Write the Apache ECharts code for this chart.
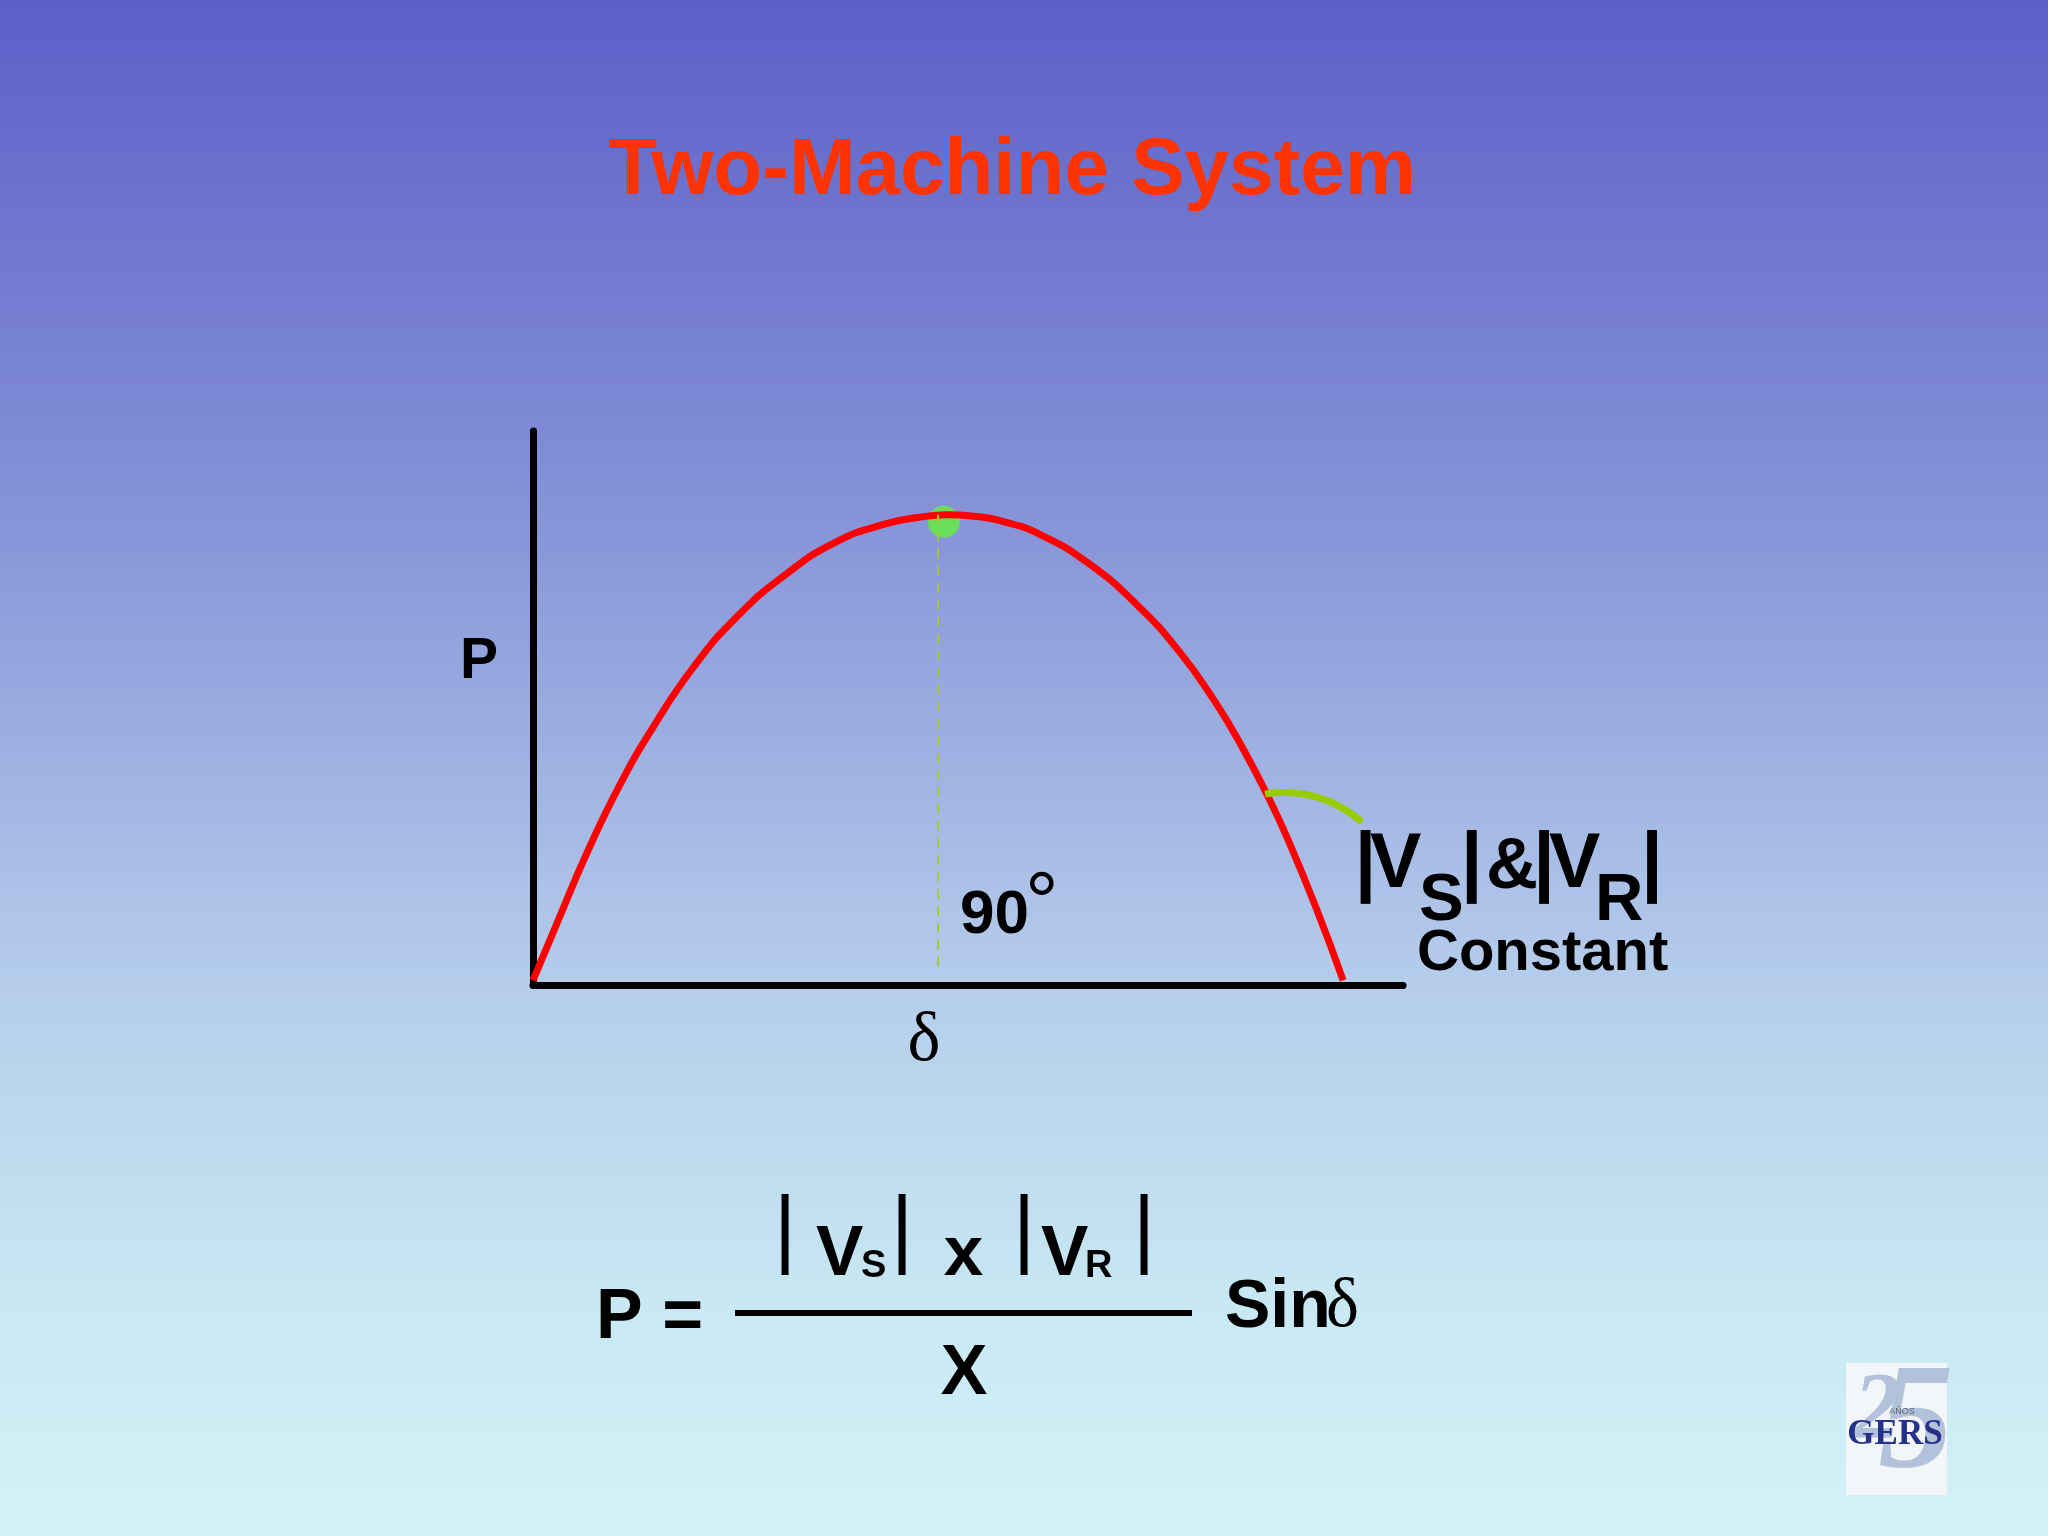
<!DOCTYPE html>
<html><head><meta charset="utf-8">
<script src="https://cdn.jsdelivr.net/npm/echarts@6/dist/echarts.min.js"></script>
<style>html,body{margin:0;padding:0;background:#8a9ad8;}#c{width:2048px;height:1536px;}</style>
</head><body><div id="c"></div>
<script>
// ---- data (δ in degrees, P normalised to its maximum) ----
const deltaDeg = [0, 5.9, 11.9, 19.3, 26.7, 35.6, 45.2, 56.3, 67.4, 78.5, 86, 92, 98, 104, 112.6, 123.7, 134.8, 143.7, 151.1, 157.0, 163.5, 168.2, 174.1, 180];
const powerP   = [0, 0.136, 0.272, 0.420, 0.544, 0.672, 0.780, 0.873, 0.942, 0.981, 0.995, 1.0, 0.997, 0.987, 0.958, 0.894, 0.801, 0.705, 0.605, 0.511, 0.391, 0.292, 0.153, 0];
const peakDelta = [91.3];
const peakP = [0.985];
const rightAngleDeg = 90;
const dashRange = [0.03, 1.0];

const curve = deltaDeg.map((d, i) => [d, powerP[i]]);
const peak = peakDelta.map((d, i) => [d, peakP[i]]);

const SANS = "'Liberation Sans', Arial, sans-serif";
const SERIF = "'Liberation Serif', 'Times New Roman', serif";
const DY = 5;
function T(text, x, y, font, opts) {
  opts = opts || {};
  const align = opts.align || 'left';
  return {
    type: 'text', x: x, y: y + DY, z: 100,
    style: {
      text: text, font: font, fill: opts.fill || '#000',
      align: align, verticalAlign: 'middle',
      textAlign: align, textVerticalAlign: 'middle'
    }
  };
}

const B77 = 'bold 77px ' + SANS, B67 = 'bold 67px ' + SANS;
const elements = [
  T('Two-Machine System', 1012, 167, 'bold 80px ' + SANS, {align: 'center', fill: '#ff3300'}),
  T('P', 479, 657, 'bold 57px ' + SANS, {align: 'center'}),
  T('δ', 924, 1037, '70px ' + SERIF, {align: 'center'}),
  T('90', 960, 911, 'bold 62px ' + SANS),
  T('°', 1025, 902, '84px ' + SANS),
  // |Vs| & |VR|  Constant
  T('|', 1365.5, 861, B77, {align: 'center'}),
  T('V', 1370, 861, B77),
  T('S', 1419, 897, B67),
  T('|', 1471.7, 861, B77, {align: 'center'}),
  T('&', 1486, 863, 'bold 72px ' + SANS),
  T('|', 1544, 861, B77, {align: 'center'}),
  T('V', 1549, 861, B77),
  T('R', 1595, 897, B67),
  T('|', 1652, 861, B77, {align: 'center'}),
  T('Constant', 1417, 949, 'bold 58px ' + SANS),
  // formula
  T('P =', 596, 1314, 'bold 70px ' + SANS),
  T('|', 785, 1228, '87px ' + SANS, {align: 'center'}),
  T('V', 816, 1250, 'bold 71px ' + SANS),
  T('S', 861, 1262, 'bold 38px ' + SANS),
  T('|', 902, 1228, '87px ' + SANS, {align: 'center'}),
  T('x', 963.5, 1250, 'bold 71px ' + SANS, {align: 'center'}),
  T('|', 1024, 1228, '87px ' + SANS, {align: 'center'}),
  T('V', 1041, 1250, 'bold 71px ' + SANS),
  T('R', 1085, 1262, 'bold 38px ' + SANS),
  T('|', 1144, 1228, '87px ' + SANS, {align: 'center'}),
  {type: 'line', z: 100, shape: {x1: 735, y1: 1313, x2: 1192, y2: 1313}, style: {stroke: '#000', lineWidth: 6}},
  T('X', 964, 1370, 'bold 70px ' + SANS, {align: 'center'}),
  T('Sin', 1225, 1303, 'bold 68px ' + SANS),
  T('δ', 1326, 1303, '70px ' + SERIF),
  // pointer arc
  {type: 'bezierCurve', z: 100, shape: {x1: 1265, y1: 794, cpx1: 1320, cpy1: 786, x2: 1362, y2: 822},
   style: {stroke: '#99cc00', lineWidth: 7, fill: null}},
  // logo
  {type: 'rect', z: 90, shape: {x: 1846, y: 1363, width: 101, height: 132}, style: {fill: '#f2f6f9'}},
  T('2', 1877, 1408, 'bold italic 95px ' + SERIF, {align: 'center', fill: '#b2c2db'}),
  T('5', 1916, 1423, 'bold italic 150px ' + SERIF, {align: 'center', fill: '#b2c2db'}),
  T('AÑOS', 1902, 1407, '9px ' + SANS, {align: 'center', fill: '#5a6070'}),
  T('GERS', 1895, 1430, 'bold 35px ' + SERIF, {align: 'center', fill: '#26318a'})
];

const chart = echarts.init(document.getElementById('c'), null, {renderer: 'canvas'});
chart.setOption({
  animation: false,
  backgroundColor: {
    type: 'linear', x: 0, y: 0, x2: 0, y2: 1,
    colorStops: [
      {offset: 0, color: '#5b5fc8'},
      {offset: 0.33, color: '#8592d8'},
      {offset: 0.64, color: '#b5cdeb'},
      {offset: 0.85, color: '#c8e8f3'},
      {offset: 1, color: '#d3f3f8'}
    ]
  },
  grid: {left: 533, top: 431, width: 870, height: 554, containLabel: false},
  xAxis: {
    type: 'value', min: 0, max: 193.3,
    axisLine: {show: true, onZero: false, lineStyle: {color: '#000', width: 7}},
    axisTick: {show: false}, axisLabel: {show: false}, splitLine: {show: false}
  },
  yAxis: {
    type: 'value', min: -0.01, max: 1.18,
    axisLine: {show: true, onZero: false, lineStyle: {color: '#000', width: 7}},
    axisTick: {show: false}, axisLabel: {show: false}, splitLine: {show: false}
  },
  series: [
    {
      type: 'scatter', z: 1, data: peak, symbol: 'circle', symbolSize: 32,
      itemStyle: {color: '#62f03a'}, silent: true,
      markLine: {
        silent: true, symbol: 'none', label: {show: false},
        lineStyle: {color: '#a3cc2a', width: 2, type: [10, 7]},
        data: [[{coord: [rightAngleDeg, dashRange[1]]}, {coord: [rightAngleDeg, dashRange[0]]}]]
      }
    },
    {
      type: 'line', z: 3, data: curve, smooth: 0.5, showSymbol: false, symbol: 'none',
      lineStyle: {color: '#ff0000', width: 7}, silent: true
    }
  ],
  graphic: {elements: elements}
});
</script></body></html>
